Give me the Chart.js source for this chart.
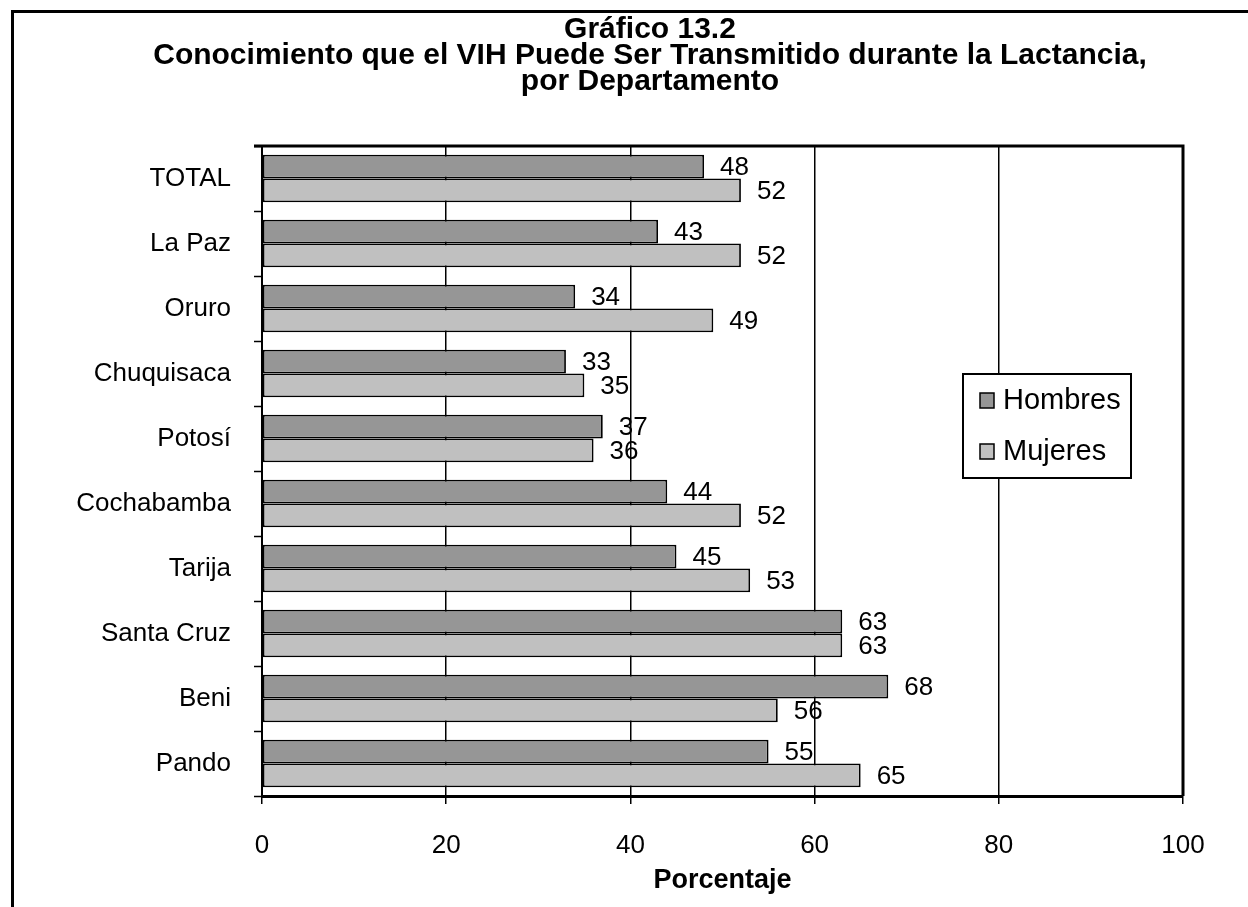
<!DOCTYPE html>
<html>
<head>
<meta charset="utf-8">
<title>Gráfico 13.2</title>
<script src="https://cdn.jsdelivr.net/npm/chart.js@4.4.1/dist/chart.umd.min.js"></script>
<style>
  html, body { margin: 0; padding: 0; background: #fff; }
  #frame { position: relative; width: 1248px; height: 907px; overflow: hidden; }
  #border { position: absolute; left: 11px; top: 10px; width: 1400px; height: 1000px;
            border-left: 3px solid #000; border-top: 3px solid #000; }
  #title { position: absolute; left: 0; top: 15px; width: 1300px; text-align: center;
           font: bold 30px "Liberation Sans", Arial, sans-serif; line-height: 26px; color: #000; }
  canvas { position: absolute; left: 0; top: 0; }
</style>
</head>
<body>
<div id="frame">
  <div id="border"></div>
  <canvas id="chart" width="1248" height="907"></canvas>
  <div id="title">Gráfico 13.2<br>Conocimiento que el VIH Puede Ser Transmitido durante la Lactancia,<br>por Departamento</div>
</div>
<script>
// Departments and percentages
const categories = ['TOTAL', 'La Paz', 'Oruro', 'Chuquisaca', 'Potosí', 'Cochabamba', 'Tarija', 'Santa Cruz', 'Beni', 'Pando'];
const hombres = [48, 43, 34, 33, 37, 44, 45, 63, 68, 55];
const mujeres = [52, 52, 49, 35, 36, 52, 53, 63, 56, 65];
const xTicks = [0, 20, 40, 60, 80, 100];

const FONT = '"Liberation Sans", Arial, sans-serif';

Chart.defaults.font.family = FONT;
Chart.defaults.color = '#000';

// value labels to the right of each bar
const barLabels = {
    id: 'barLabels',
    afterDatasetsDraw(chart) {
        const ctx = chart.ctx;
        ctx.save();
        ctx.font = '26px ' + FONT;
        ctx.fillStyle = '#000';
        ctx.textAlign = 'left';
        ctx.textBaseline = 'middle';
        chart.data.datasets.forEach((ds, i) => {
            chart.getDatasetMeta(i).data.forEach((bar, j) => {
                ctx.fillText(ds.data[j], bar.x + 16, bar.y + 1);
            });
        });
        ctx.restore();
    }
};

// top and right edges of the plot area
const plotFrame = {
    id: 'plotFrame',
    afterDatasetsDraw(chart) {
        const { left, right, top } = chart.chartArea;
        const ctx = chart.ctx;
        ctx.save();
        ctx.strokeStyle = '#000';
        ctx.lineWidth = 3;
        ctx.beginPath();
        ctx.moveTo(left - 8, top);
        ctx.lineTo(right, top);
        ctx.lineTo(right, chart.chartArea.bottom);
        ctx.stroke();
        ctx.restore();
    }
};

// boxed legend inside the plot
const boxLegend = {
    id: 'boxLegend',
    afterDraw(chart) {
        const ctx = chart.ctx;
        const x = 963, y = 374, w = 168, h = 104;
        ctx.save();
        ctx.fillStyle = '#fff';
        ctx.fillRect(x, y, w, h);
        ctx.strokeStyle = '#000';
        ctx.lineWidth = 2;
        ctx.strokeRect(x, y, w, h);
        ctx.font = '29px ' + FONT;
        ctx.textBaseline = 'middle';
        chart.data.datasets.forEach((ds, i) => {
            const cy = y + 26 + i * 51;
            ctx.fillStyle = ds.backgroundColor;
            ctx.fillRect(x + 17, cy - 7, 14, 15);
            ctx.lineWidth = 1.5;
            ctx.strokeRect(x + 17, cy - 7, 14, 15);
            ctx.fillStyle = '#000';
            ctx.fillText(ds.label, x + 40, cy + 1);
        });
        ctx.restore();
    }
};

new Chart(document.getElementById('chart'), {
    type: 'bar',
    data: {
        labels: categories,
        datasets: [
            { label: 'Hombres', data: hombres, backgroundColor: '#969696', borderColor: '#000', borderWidth: 1.8, borderSkipped: false },
            { label: 'Mujeres', data: mujeres, backgroundColor: '#c0c0c0', borderColor: '#000', borderWidth: 1.8, borderSkipped: false }
        ]
    },
    options: {
        indexAxis: 'y',
        responsive: false,
        animation: false,
        categoryPercentage: 0.73,
        barPercentage: 1.0,
        layout: { padding: { top: 146, right: 65, left: 0, bottom: 0 } },
        scales: {
            x: {
                min: 0,
                max: 100,
                afterBuildTicks: s => { s.ticks = xTicks.map(v => ({ value: v })); },
                afterFit: s => { s.height = 111; },
                grid: { color: '#000', lineWidth: 1.5, tickLength: 8, tickColor: '#000', tickWidth: 1.5 },
                border: { color: '#000', width: 3 },
                ticks: { font: { size: 26 }, padding: 26, color: '#000' },
                title: { display: true, text: 'Porcentaje', font: { size: 27, weight: 'bold' }, padding: { top: 0, bottom: 10 }, color: '#000' }
            },
            y: {
                afterFit: s => { s.width = 262; },
                grid: { drawOnChartArea: false, tickLength: 8, tickColor: '#000', tickWidth: 1.5, offset: true },
                border: { color: '#000', width: 2 },
                ticks: { font: { size: 26 }, padding: 23, color: '#000' }
            }
        },
        plugins: {
            legend: { display: false },
            title: { display: false },
            tooltip: { enabled: false }
        }
    },
    plugins: [barLabels, plotFrame, boxLegend]
});
</script>
</body>
</html>
